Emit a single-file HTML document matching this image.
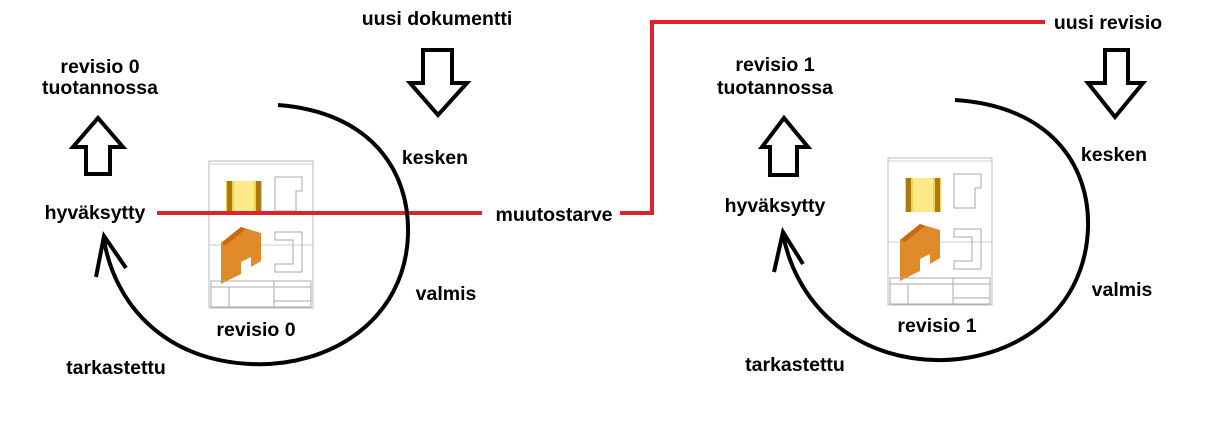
<!DOCTYPE html>
<html><head><meta charset="utf-8"><style>
body{margin:0;background:#fff;width:1212px;height:428px;overflow:hidden}
svg text{font-family:"Liberation Sans",sans-serif;font-weight:bold;font-size:19.5px;fill:#000}
</style></head><body>
<svg width="1212" height="428" viewBox="0 0 1212 428">
<defs>
<g id="sheet">
<rect x="0" y="0" width="104" height="147" fill="#fff" stroke="#bbb" stroke-width="1"/>
<line x1="0" y1="3" x2="104" y2="3" stroke="#ccc"/>
<rect x="17" y="20" width="36" height="34" fill="#f5d24a"/>
<rect x="18" y="20" width="5" height="34" fill="#a87a10"/>
<rect x="47" y="20" width="5" height="34" fill="#a87a10"/>
<rect x="25" y="20" width="20" height="34" fill="#fbe98a"/>
<path d="M66 16h27v14h-6v20h-21z" fill="none" stroke="#aaa"/>
<line x1="0" y1="84" x2="104" y2="84" stroke="#999" stroke-width="0.6"/>
<path d="M12 82l20-16 20 6v28l-10 6v-10l-10 5v12l-20 10z" fill="#e08a2a"/>
<path d="M12 82l20-16 5 2-20 16z" fill="#c86a10"/>
<path d="M66 71h27v40h-27v-8h18v-24h-18z" fill="none" stroke="#aaa"/>
<rect x="2" y="120" width="100" height="26" fill="none" stroke="#aaa"/>
<line x1="2" y1="126" x2="102" y2="126" stroke="#aaa"/>
<line x1="20" y1="126" x2="20" y2="146" stroke="#aaa"/>
<line x1="65" y1="120" x2="65" y2="146" stroke="#aaa"/>
<line x1="65" y1="140" x2="102" y2="140" stroke="#aaa"/>
</g>
</defs>
<use href="#sheet" x="209" y="161"/>
<use href="#sheet" x="888" y="158"/>
<line x1="157" y1="213" x2="482" y2="213" stroke="#e0202a" stroke-width="4"/>
<polyline points="620,213 652,213 652,22 1045,22" fill="none" stroke="#e0202a" stroke-width="4"/>
<g fill="none" stroke="#000" stroke-width="4" stroke-linejoin="miter">
<path d="M278,105 C370,112 410,170 408,235 C405,320 330,368 250,364 C165,360 115,305 104,240"/>
<polyline points="96,277 104,236 126,268"/>
<path d="M955,100 C1050,106 1090,165 1088,228 C1085,315 1010,362 935,360 C850,358 795,300 783,234"/>
<polyline points="774,272 783,232 803,264"/>
</g>
<g fill="#fff" stroke="#000" stroke-width="4" stroke-linejoin="miter">
<path d="M86,174 V147 H73 L98,118 L123,147 H110 V174 Z"/>
<path d="M770,175 V147 H762 L784,118 L808,147 H797 V175 Z"/>
<path d="M423,50 H452 V83 H467 L438,115 L410,83 H423 Z"/>
<path d="M1105,50 H1128 V83 H1143 L1115,117 L1088,83 H1105 Z"/>
</g>
<text x="437" y="25" text-anchor="middle">uusi dokumentti</text>
<text x="100" y="73" text-anchor="middle">revisio 0</text>
<text x="100" y="94" text-anchor="middle">tuotannossa</text>
<text x="435" y="164" text-anchor="middle">kesken</text>
<text x="95" y="219" text-anchor="middle">hyväksytty</text>
<text x="554" y="221" text-anchor="middle">muutostarve</text>
<text x="446" y="300" text-anchor="middle">valmis</text>
<text x="256" y="336" text-anchor="middle">revisio 0</text>
<text x="116" y="374" text-anchor="middle">tarkastettu</text>
<text x="1108" y="29" text-anchor="middle">uusi revisio</text>
<text x="775" y="71" text-anchor="middle">revisio 1</text>
<text x="775" y="94" text-anchor="middle">tuotannossa</text>
<text x="1114" y="161" text-anchor="middle">kesken</text>
<text x="775" y="212" text-anchor="middle">hyväksytty</text>
<text x="1122" y="296" text-anchor="middle">valmis</text>
<text x="937" y="332" text-anchor="middle">revisio 1</text>
<text x="795" y="371" text-anchor="middle">tarkastettu</text>
</svg>
</body></html>
